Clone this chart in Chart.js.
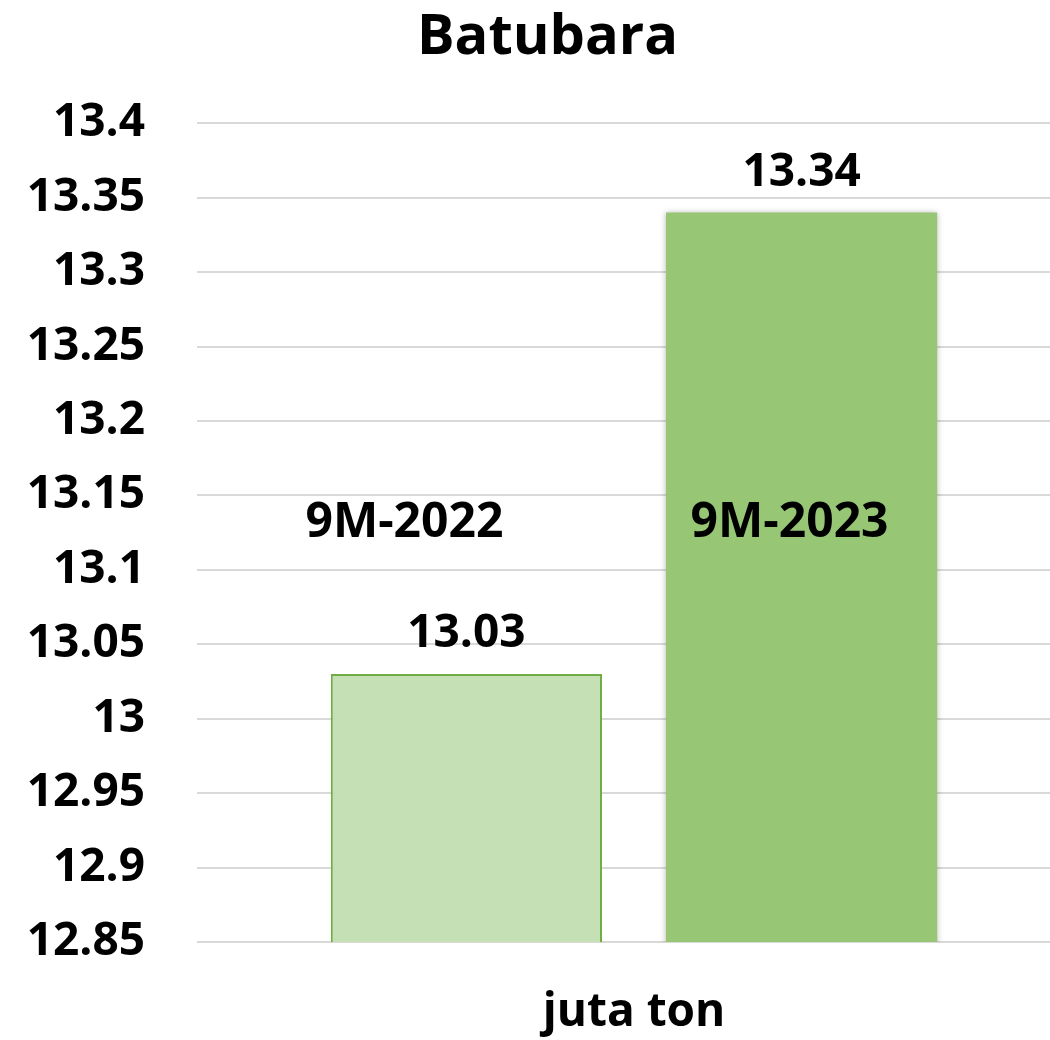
<!DOCTYPE html>
<html>
<head>
<meta charset="utf-8">
<script src="https://cdn.jsdelivr.net/npm/chart.js@4/dist/chart.umd.min.js"></script>
<style>
  html, body { margin: 0; padding: 0; background: #fff; overflow: hidden; }
  #wrap { width: 1108px; height: 1040px; }
</style>
</head>
<body>
<div id="wrap"><canvas id="barChart" width="1108" height="1040"></canvas></div>
<script>
// chart data
const categories = ['juta ton'];
const seriesNames = ['9M-2022', '9M-2023'];
const values2022 = [13.03];
const values2023 = [13.34];
const yTicks = { min: 12.85, max: 13.4, step: 0.05 };

const FONT = "'Open Sans', 'Noto Sans', sans-serif";

// draws the value above each bar and the series name inside the plot
const barLabels = {
    id: 'barLabels',
    afterDatasetsDraw: function (chart) {
        const ctx = chart.ctx;
        const yScale = chart.scales.y;
        const nameOffsets = [-62, -12];
        ctx.save();
        ctx.fillStyle = '#000';
        ctx.textAlign = 'center';
        ctx.textBaseline = 'middle';
        chart.data.datasets.forEach(function (ds, i) {
            const meta = chart.getDatasetMeta(i);
            meta.data.forEach(function (bar, j) {
                ctx.font = 'bold 46px ' + FONT;
                ctx.fillText(ds.data[j].toFixed(2), bar.x, bar.y - 40);
                ctx.font = 'bold 48px ' + FONT;
                ctx.fillText(ds.label, bar.x + nameOffsets[i], yScale.getPixelForValue(13.131));
            });
        });
        ctx.restore();
    }
};

// soft shadow behind the darker bar
const barShadow = {
    id: 'barShadow',
    beforeDatasetDraw: function (chart, args) {
        if (args.index === 1) {
            chart.ctx.save();
            chart.ctx.shadowColor = 'rgba(0,0,0,0.3)';
            chart.ctx.shadowBlur = 6;
        }
    },
    afterDatasetDraw: function (chart, args) {
        if (args.index === 1) chart.ctx.restore();
    }
};

new Chart(document.getElementById('barChart').getContext('2d'), {
    type: 'bar',
    data: {
        labels: categories,
        datasets: [{
            label: seriesNames[0],
            data: values2022,
            backgroundColor: '#C5E0B4',
            borderColor: '#70AD47',
            borderWidth: 2
        }, {
            label: seriesNames[1],
            data: values2023,
            backgroundColor: '#97C675',
            borderColor: '#97C675',
            borderWidth: 0
        }]
    },
    options: {
        responsive: false,
        animation: false,
        categoryPercentage: 0.767,
        barPercentage: 0.809,
        layout: { padding: { left: 24, right: 37, bottom: 0 } },
        plugins: {
            legend: { display: false },
            tooltip: { enabled: false },
            title: {
                display: true,
                text: 'Batubara',
                color: '#000',
                font: { family: FONT, size: 56, weight: 'bold' },
                padding: { top: 4, bottom: 52 }
            }
        },
        scales: {
            x: {
                grid: { display: false },
                border: { display: false },
                afterFit: function (scale) { scale.height = 98; },
                ticks: {
                    color: '#000',
                    padding: 35,
                    font: { family: FONT, size: 46, weight: 'bold' }
                }
            },
            y: {
                min: yTicks.min,
                max: yTicks.max,
                border: { display: false },
                grid: { color: '#D9D9D9', lineWidth: 2, drawTicks: false },
                afterFit: function (scale) { scale.width = 173; },
                ticks: {
                    stepSize: yTicks.step,
                    padding: 52,
                    color: '#000',
                    font: { family: FONT, size: 46, weight: 'bold' },
                    callback: function (v) { return String(+v.toFixed(2)); }
                }
            }
        }
    },
    plugins: [barLabels, barShadow]
});
</script>
</body>
</html>
